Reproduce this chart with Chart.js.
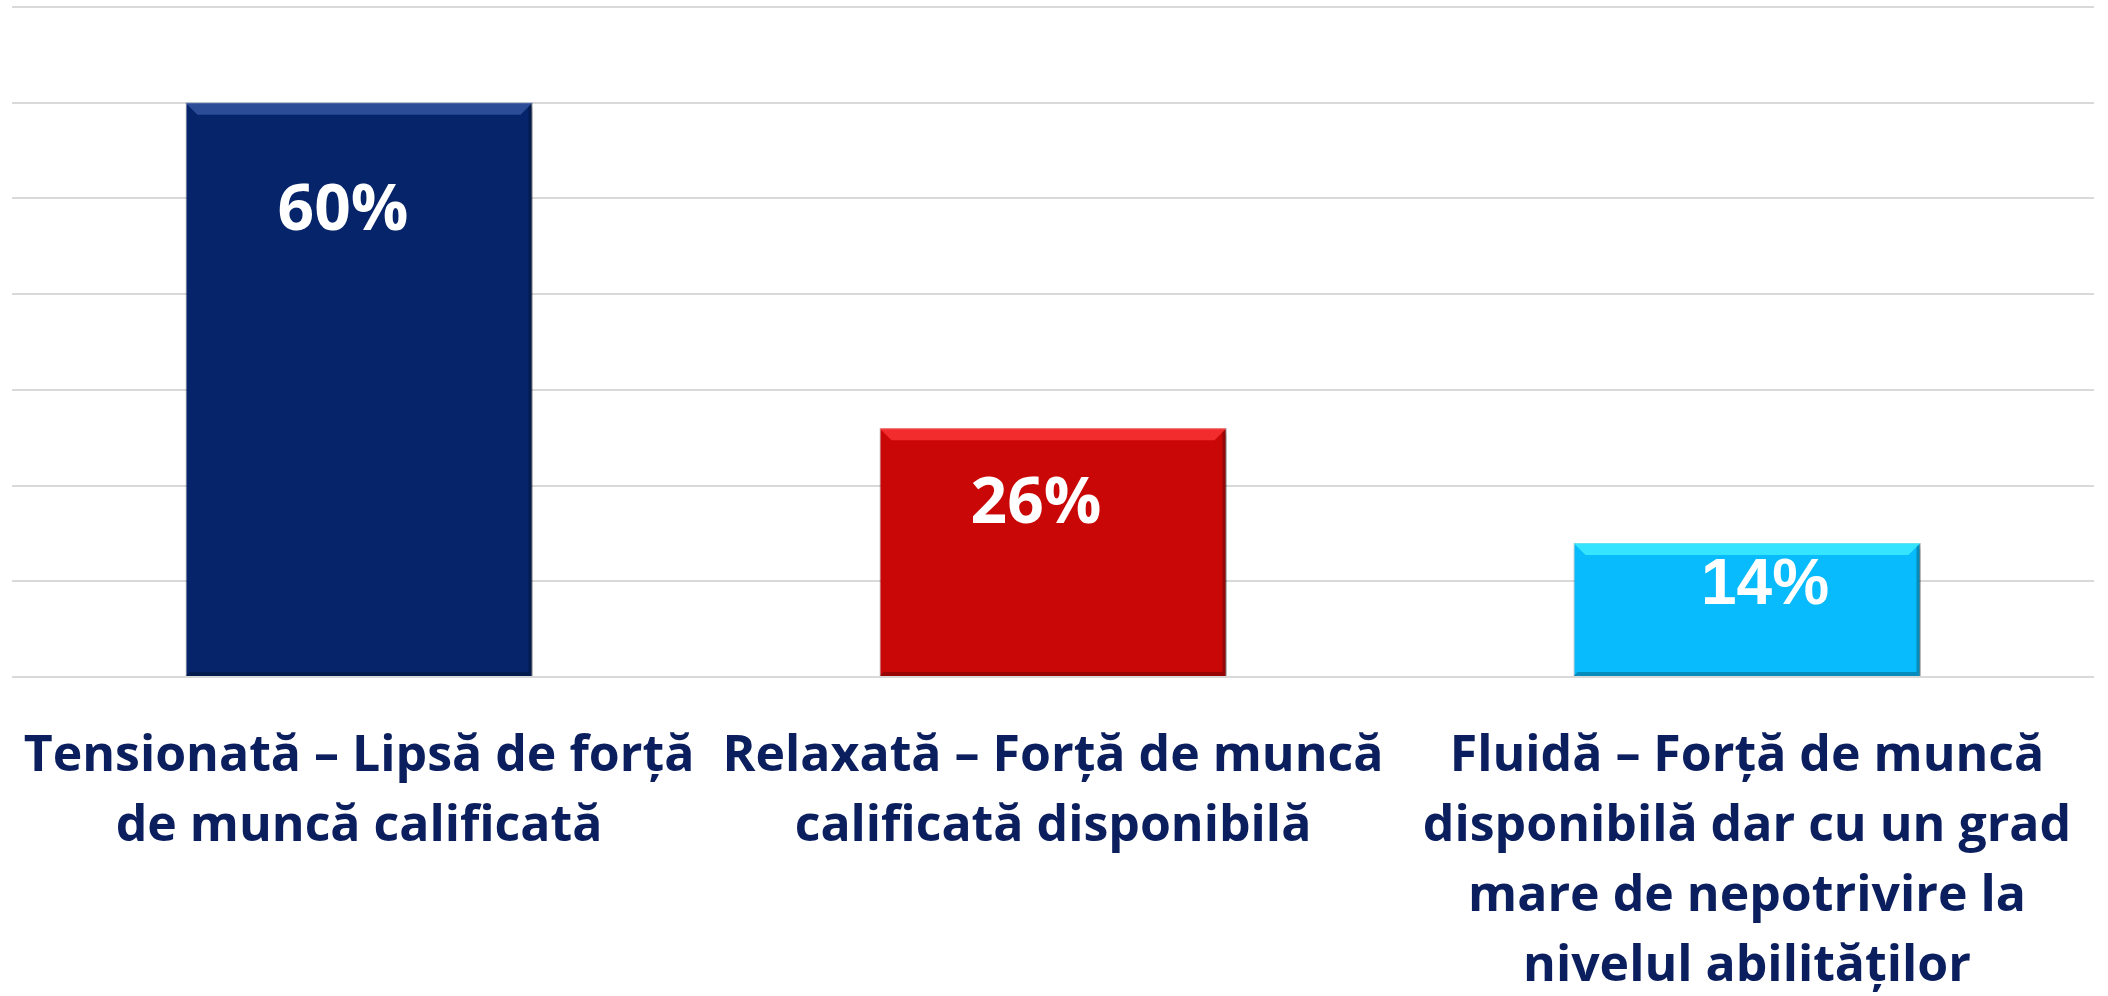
<!DOCTYPE html>
<html lang="ro">
<head>
<meta charset="utf-8">
<title>Piața muncii</title>
<script src="https://cdn.jsdelivr.net/npm/chart.js@4/dist/chart.umd.min.js"></script>
<style>
    html, body { margin: 0; padding: 0; background: #ffffff; }
    #wrap { width: 2108px; height: 996px; position: relative; }
</style>
</head>
<body>
<div id="wrap"><canvas id="chart"></canvas></div>
<script>
// Categorii (etichete pe mai multe rânduri, ca în original)
const categories = [
    ['Tensionată – Lipsă de forță', 'de muncă calificată'],
    ['Relaxată – Forță de muncă', 'calificată disponibilă'],
    ['Fluidă – Forță de muncă', 'disponibilă dar cu un grad', 'mare de nepotrivire la', 'nivelul abilităților']
];
const shares = [60, 26, 14];
const barColors = ['#06246a', '#ca0707', '#07bbfc'];
const bevelColors = ['#3a5aa8', '#ff3a3a', '#45f2ff'];
const yTicks = [0, 10, 20, 30, 40, 50, 60, 70];

const LABEL_COLOR = '#0b1f5e';

// Efect de umbră + teșitură pentru bare
const barStyle = {
    id: 'barStyle',
    beforeDatasetDraw(chart) {
        const ctx = chart.ctx;
        ctx.save();
        ctx.shadowColor = 'rgba(0, 0, 0, 0.35)';
        ctx.shadowBlur = 6;
        ctx.shadowOffsetX = 2;
        ctx.shadowOffsetY = 3;
    },
    afterDatasetDraw(chart) {
        const ctx = chart.ctx;
        ctx.restore();
        const meta = chart.getDatasetMeta(0);
        meta.data.forEach((bar, i) => {
            const left = bar.x - bar.width / 2;
            const right = bar.x + bar.width / 2;
            const top = bar.y;
            const bottom = bar.base;
            const b = 12;
            ctx.save();
            // teșitura de sus
            ctx.fillStyle = bevelColors[i];
            ctx.globalAlpha = 0.75;
            ctx.beginPath();
            ctx.moveTo(left, top);
            ctx.lineTo(right, top);
            ctx.lineTo(right - b, top + b);
            ctx.lineTo(left + b, top + b);
            ctx.closePath();
            ctx.fill();
            // marginea de jos și din dreapta, mai închisă
            ctx.globalAlpha = 0.25;
            ctx.fillStyle = '#000000';
            ctx.beginPath();
            ctx.moveTo(right, top);
            ctx.lineTo(right, bottom);
            ctx.lineTo(right - 4, bottom - 4);
            ctx.lineTo(right - 4, top + 4);
            ctx.closePath();
            ctx.fill();
            ctx.beginPath();
            ctx.moveTo(left, bottom);
            ctx.lineTo(right, bottom);
            ctx.lineTo(right - 4, bottom - 4);
            ctx.lineTo(left + 4, bottom - 4);
            ctx.closePath();
            ctx.fill();
            ctx.restore();
        });
    }
};

// Etichete de valoare în interiorul barelor
const valueLabels = {
    id: 'valueLabels',
    afterDatasetsDraw(chart, args, opts) {
        const ctx = chart.ctx;
        const meta = chart.getDatasetMeta(0);
        meta.data.forEach((bar, i) => {
            const shift = opts.shift[i];
            ctx.save();
            ctx.fillStyle = '#ffffff';
            ctx.font = 'bold 64px ' + opts.fonts[i];
            ctx.textAlign = 'center';
            ctx.textBaseline = 'middle';
            ctx.fillText(shares[i] + '%', bar.x + shift[0], bar.y + shift[1]);
            ctx.restore();
        });
    }
};

new Chart(document.getElementById('chart').getContext('2d'), {
    type: 'bar',
    data: {
        labels: categories,
        datasets: [{
            data: shares,
            backgroundColor: barColors,
            borderColor: 'rgba(0, 0, 0, 0.25)',
            borderWidth: 1,
            barPercentage: 0.5,
            categoryPercentage: 1.0
        }]
    },
    options: {
        responsive: true,
        maintainAspectRatio: false,
        animation: false,
        layout: {
            padding: { left: 12, right: 14, top: 7, bottom: 0 }
        },
        plugins: {
            legend: { display: false },
            tooltip: { enabled: false },
            valueLabels: {
                shift: [[-16, 109], [-17, 77], [18, 43]],
                fonts: ['"Open Sans"', '"Open Sans"', '"Liberation Sans"']
            }
        },
        scales: {
            x: {
                grid: { display: false, drawTicks: false },
                border: { display: false },
                afterFit: (axis) => {
                    // axa orizontală la ~677px, etichetele coboară până jos
                    axis.height = 319;
                    // etichetele late nu trebuie să îngusteze zona graficului
                    axis.paddingLeft = 0;
                    axis.paddingRight = 0;
                },
                ticks: {
                    color: LABEL_COLOR,
                    padding: 45,
                    maxRotation: 0,
                    autoSkip: false,
                    font: {
                        family: '"Open Sans"',
                        size: 50,
                        weight: 'bold',
                        lineHeight: 1.4
                    }
                }
            },
            y: {
                min: 0,
                max: 70,
                afterBuildTicks: (axis) => {
                    axis.ticks = yTicks.map(v => ({ value: v }));
                },
                grid: {
                    color: '#d9d9d9',
                    lineWidth: 2,
                    drawTicks: false
                },
                border: { display: false },
                ticks: { display: false }
            }
        }
    },
    plugins: [barStyle, valueLabels]
});
</script>
</body>
</html>
